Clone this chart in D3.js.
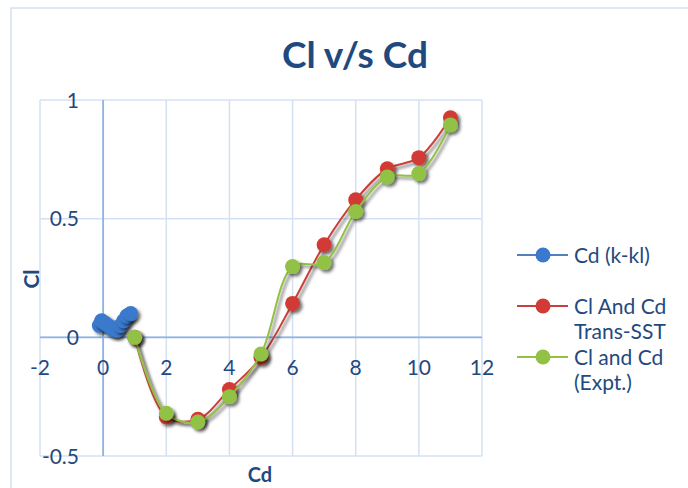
<!DOCTYPE html>
<html><head><meta charset="utf-8">
<script src="https://cdn.jsdelivr.net/npm/d3@7"></script>
<style>html,body{margin:0;padding:0;background:#fff;}svg{display:block;font-family:Lato,"Open Sans",sans-serif;}</style>
</head><body><svg id="c" width="688" height="488"></svg>
<script>
// Data
const xTicks = [-2, 0, 2, 4, 6, 8, 10, 12];
const yTicks = [-0.5, 0, 0.5, 1];
const yTickLabels = ["-0.5", "0", "0.5", "1"];
const blueX = [-0.12, -0.05, 0.05, 0.15, 0.25, 0.35, 0.45, 0.55, 0.65, 0.75, 0.87];
const blueY = [0.05, 0.07, 0.06, 0.05, 0.04, 0.03, 0.03, 0.05, 0.07, 0.09, 0.1];
const redX = [1, 2, 3, 4, 5, 6, 7, 8, 9, 10, 11];
const redY = [0, -0.335, -0.345, -0.22, -0.085, 0.143, 0.39, 0.58, 0.71, 0.757, 0.925];
const greenX = [1, 2, 3, 4, 5, 6, 7, 8, 9, 10, 11];
const greenY = [0, -0.32, -0.357, -0.25, -0.07, 0.298, 0.315, 0.53, 0.676, 0.69, 0.895];
const seriesNames = [["Cd (k-kl)"], ["Cl And Cd", "Trans-SST"], ["Cl and Cd", "(Expt.)"]];

const svg = d3.select("#c");
const textColor = "#1f4a7f";
const x = d3.scaleLinear().domain([-2, 12]).range([40, 482]);
const y = d3.scaleLinear().domain([-0.5, 1]).range([456, 100]);

const defs = svg.append("defs");
const f = defs.append("filter").attr("id", "sh").attr("x", "-50%").attr("y", "-50%").attr("width", "200%").attr("height", "200%");
f.append("feDropShadow").attr("dx", 2.5).attr("dy", 2.5).attr("stdDeviation", 1.6).attr("flood-color", "#000").attr("flood-opacity", 0.55);

// chart frame
svg.append("rect").attr("x", 11).attr("y", 8).attr("width", 690).attr("height", 500)
  .attr("fill", "none").attr("stroke", "#d5e0ee").attr("stroke-width", 1.5);

// title
svg.append("text").attr("x", 355).attr("y", 68).attr("text-anchor", "middle")
  .attr("font-size", 37).attr("font-weight", "bold").attr("fill", textColor).text("Cl v/s Cd");

// gridlines
const grid = svg.append("g").attr("stroke", "#d3e1f3").attr("stroke-width", 1.5);
grid.selectAll(".vg").data(xTicks).join("line")
  .attr("x1", d => x(d)).attr("x2", d => x(d)).attr("y1", y(1)).attr("y2", y(-0.5));
grid.selectAll(".hg").data(yTicks).join("line")
  .attr("x1", x(-2)).attr("x2", x(12)).attr("y1", d => y(d)).attr("y2", d => y(d));

// axes through zero
svg.append("line").attr("x1", x(0)).attr("x2", x(0)).attr("y1", y(1)).attr("y2", y(-0.5))
  .attr("stroke", "#8fb4e3").attr("stroke-width", 1.8);
svg.append("line").attr("x1", x(-2)).attr("x2", x(12)).attr("y1", y(0)).attr("y2", y(0))
  .attr("stroke", "#8fb4e3").attr("stroke-width", 1.8);

// tick labels
svg.selectAll(".xt").data(xTicks).join("text")
  .attr("x", d => x(d)).attr("y", y(0) + 38).attr("text-anchor", "middle")
  .attr("font-size", 21).attr("fill", textColor).text(d => d);
svg.selectAll(".yt").data(yTicks).join("text")
  .attr("x", 79).attr("y", d => y(d)).attr("dy", "0.36em").attr("text-anchor", "end")
  .attr("font-size", 21).attr("fill", textColor).text((d, i) => yTickLabels[i]);

// axis titles
svg.append("text").attr("x", 260).attr("y", 482).attr("text-anchor", "middle")
  .attr("font-size", 20).attr("font-weight", "bold").attr("fill", textColor).text("Cd");
svg.append("text").attr("transform", "translate(39,279) rotate(-90)").attr("text-anchor", "middle")
  .attr("font-size", 21).attr("font-weight", "bold").attr("fill", textColor).text("Cl");

const series = [
  {xs: blueX, ys: blueY, line: "#4f81bd", mark: "#3b79cc"},
  {xs: redX, ys: redY, line: "#c9403b", mark: "#d23b35"},
  {xs: greenX, ys: greenY, line: "#94c045", mark: "#92c245"}
];
const lineGen = d3.line().x(d => x(d[0])).y(d => y(d[1])).curve(d3.curveCatmullRom.alpha(0.5));

series.forEach(s => {
  const pts = s.xs.map((v, i) => [v, s.ys[i]]);
  const g = svg.append("g");
  g.append("path").attr("d", lineGen(pts)).attr("fill", "none")
    .attr("stroke", s.line).attr("stroke-width", 2).attr("filter", "url(#sh)");
  g.selectAll("circle").data(pts).join("circle")
    .attr("cx", d => x(d[0])).attr("cy", d => y(d[1])).attr("r", 7.5)
    .attr("fill", s.mark).attr("filter", "url(#sh)");
});

// legend
const legY = [255, 306, 357];
series.forEach((s, i) => {
  const g = svg.append("g");
  g.append("line").attr("x1", 517).attr("x2", 568).attr("y1", legY[i]).attr("y2", legY[i])
    .attr("stroke", s.line).attr("stroke-width", 2);
  g.append("circle").attr("cx", 543).attr("cy", legY[i]).attr("r", 7.5).attr("fill", s.mark);
  seriesNames[i].forEach((t, j) => {
    g.append("text").attr("x", 574).attr("y", legY[i] + j * 25.5).attr("dy", "0.36em")
      .attr("font-size", 21).attr("fill", textColor).text(t);
  });
});
</script></body></html>
